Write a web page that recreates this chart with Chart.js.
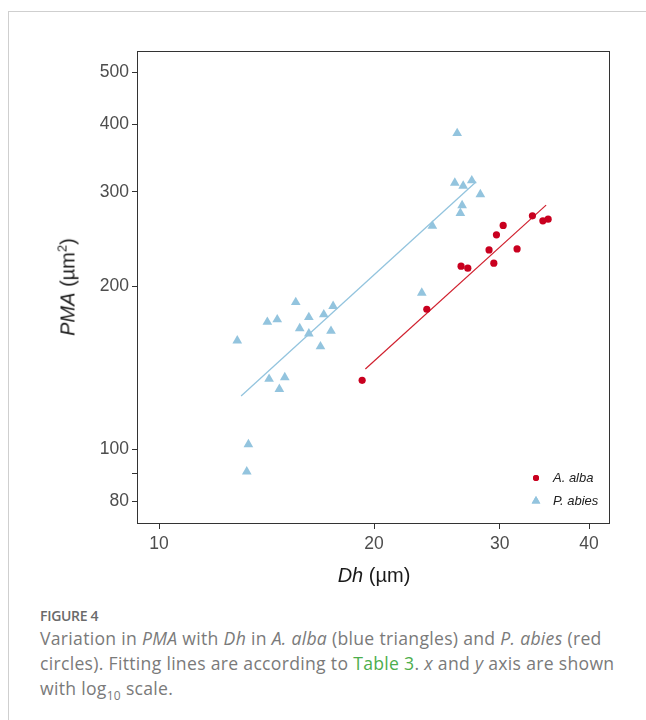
<!DOCTYPE html>
<html>
<head>
<meta charset="utf-8">
<script src="https://cdn.jsdelivr.net/npm/chart.js@4.4.1/dist/chart.umd.min.js"></script>
<style>
  body { margin: 0; background: #fff; width: 646px; height: 720px; overflow: hidden; position: relative; }
  .marco { position: absolute; left: 8px; top: 11px; width: 700px; height: 760px; border-top: 1px solid #cfcfcf; border-left: 1px solid #cfcfcf; }
  #grafico { position: absolute; left: 0; top: 0; }
  .titulo-y { position: absolute; left: 68px; top: 287px; transform: translate(-50%, -50%) rotate(-90deg); white-space: nowrap;
    font-family: "Liberation Sans", Arial, sans-serif; font-size: 20px; color: #1a1a1a; }
  .titulo-x { position: absolute; left: 374px; top: 575px; transform: translate(-50%, -50%); white-space: nowrap;
    font-family: "Liberation Sans", Arial, sans-serif; font-size: 20px; color: #1a1a1a; }
  .titulo-y sup { font-size: 13px; vertical-align: 8px; line-height: 0; }
  .pie { position: absolute; left: 40px; top: 606px; width: 600px; font-family: "Open Sans", sans-serif; color: #7a7a7a; }
  .pie .fig { font-size: 14px; font-weight: 600; color: #6a6a6a; margin-bottom: 1px; letter-spacing: -0.3px; }
  .pie .txt { font-size: 17.6px; line-height: 25px; letter-spacing: 0.3px; }
  .pie .verde { color: #4cae4c; }
  .pie sub { font-size: 12px; line-height: 0; }
</style>
</head>
<body>
<div class="marco"></div>
<canvas id="grafico" width="646" height="600"></canvas>
<div class="titulo-y"><i>PMA</i> (µm<sup>2</sup>)</div>
<div class="titulo-x"><i>Dh</i> (µm)</div>
<div class="pie">
  <div class="fig">FIGURE 4</div>
  <div class="txt">Variation in <i>PMA</i> with <i>Dh</i> in <i>A. alba</i> (blue triangles) and <i>P. abies</i> (red circles). Fitting lines are according to <span class="verde">Table 3</span>. <i>x</i> and <i>y</i> axis are shown with log<sub>10</sub> scale.</div>
</div>
<script>
// Datos (Dh en µm, PMA en µm²)
const albaDh  = [19.25, 23.71, 26.48, 27.06, 28.98, 29.43, 29.68, 30.33, 31.72, 33.33, 34.47, 35.06];
const albaPMA = [134.1, 181.6, 218.3, 216.4, 234.0, 221.1, 249.5, 259.7, 235.0, 270.6, 264.9, 266.8];

const abiesDh  = [12.87, 14.18, 14.64, 15.54, 16.21, 17.01, 17.53, 15.74, 16.21, 17.41, 16.83, 14.26, 15.00, 14.74,
                  13.34, 13.27, 26.15, 25.95, 26.66, 27.41, 28.18, 26.57, 26.42, 24.14, 23.33];
const abiesPMA = [158.8, 172.0, 173.8, 187.1, 175.5, 177.6, 184.0, 167.4, 163.6, 165.5, 154.9, 134.8, 135.8, 129.1,
                  102.0, 90.8, 385.0, 311.5, 307.5, 314.7, 296.5, 282.9, 273.8, 259.3, 194.7];

// Rectas de ajuste (extremos)
const ajusteAlbaDh  = [19.45, 34.83];
const ajusteAlbaPMA = [140.7, 283.3];
const ajusteAbiesDh  = [13.03, 27.80];
const ajusteAbiesPMA = [125.4, 312.9];

const ticksX = [10, 20, 30, 40];
const ticksY = [80, 90, 100, 200, 300, 400, 500];
const etiquetasY = [80, 100, 200, 300, 400, 500];

const ROJO = '#c9001f';
const AZUL = '#93c4de';
const fuenteEje = '"Liberation Sans", Arial, sans-serif';

function puntos(xs, ys) {
    return xs.map((x, i) => ({ x: x, y: ys[i] }));
}

// Marco del área de trazado
const marcoPlugin = {
    id: 'marco',
    afterDraw(chart) {
        const { ctx, chartArea: a } = chart;
        ctx.save();
        ctx.strokeStyle = '#333';
        ctx.lineWidth = 1;
        ctx.strokeRect(a.left + 0.5, a.top + 0.5, a.right - a.left - 1, a.bottom - a.top - 1);
        ctx.restore();
    }
};

// Leyenda dentro del área (abajo a la derecha)
const leyendaPlugin = {
    id: 'leyenda',
    afterDraw(chart) {
        const { ctx, chartArea: a } = chart;
        const x = a.right - 74;
        const items = [
            { texto: 'A. alba', estilo: 'circle', color: ROJO, r: 3, y: a.bottom - 46 },
            { texto: 'P. abies', estilo: 'triangle', color: AZUL, r: 5, y: a.bottom - 23 }
        ];
        ctx.save();
        items.forEach(it => {
            ctx.fillStyle = it.color;
            Chart.helpers.drawPoint(ctx, { pointStyle: it.estilo, radius: it.r, borderWidth: 0, rotation: 0 }, x, it.y);
            ctx.fill();
            ctx.fillStyle = '#222';
            ctx.font = 'italic 13px ' + fuenteEje;
            ctx.textBaseline = 'middle';
            ctx.textAlign = 'left';
            ctx.fillText(it.texto, x + 17, it.y);
        });
        ctx.restore();
    }
};

new Chart(document.getElementById('grafico').getContext('2d'), {
    type: 'scatter',
    data: {
        datasets: [
            {
                label: 'A. alba',
                data: puntos(albaDh, albaPMA),
                pointStyle: 'circle',
                pointRadius: 3.6,
                pointBorderWidth: 0,
                backgroundColor: ROJO,
                borderColor: ROJO
            },
            {
                label: 'P. abies',
                data: puntos(abiesDh, abiesPMA),
                pointStyle: 'triangle',
                pointRadius: 5.6,
                pointBorderWidth: 0,
                backgroundColor: AZUL,
                borderColor: AZUL
            },
            {
                label: 'ajuste alba',
                type: 'line',
                data: puntos(ajusteAlbaDh, ajusteAlbaPMA),
                borderColor: '#d0202e',
                borderWidth: 1.2,
                pointRadius: 0,
                fill: false
            },
            {
                label: 'ajuste abies',
                type: 'line',
                data: puntos(ajusteAbiesDh, ajusteAbiesPMA),
                borderColor: AZUL,
                borderWidth: 1.3,
                pointRadius: 0,
                fill: false
            }
        ]
    },
    options: {
        responsive: false,
        animation: false,
        devicePixelRatio: 1,
        layout: { padding: { top: 51, right: 36, left: 0, bottom: 0 } },
        plugins: {
            legend: { display: false },
            tooltip: { enabled: false }
        },
        scales: {
            x: {
                type: 'logarithmic',
                min: 9.315,
                max: 42.8,
                afterBuildTicks: eje => { eje.ticks = ticksX.map(v => ({ value: v })); },
                afterFit: eje => { eje.height = 76; },
                grid: { drawOnChartArea: false, drawTicks: true, tickLength: 5, color: '#333' },
                border: { display: false },
                ticks: {
                    autoSkip: false,
                    maxRotation: 0,
                    padding: 5,
                    color: '#4d4d4d',
                    font: { family: fuenteEje, size: 17.5 },
                    callback: v => String(v)
                }
            },
            y: {
                type: 'logarithmic',
                min: 72.6,
                max: 547,
                afterBuildTicks: eje => { eje.ticks = ticksY.map(v => ({ value: v })); },
                afterFit: eje => { eje.width = 137; },
                grid: { drawOnChartArea: false, drawTicks: true, tickLength: 5, color: '#333' },
                border: { display: false },
                ticks: {
                    autoSkip: false,
                    padding: 3,
                    color: '#4d4d4d',
                    font: { family: fuenteEje, size: 17.5 },
                    callback: v => etiquetasY.includes(v) ? String(v) : ''
                }
            }
        }
    },
    plugins: [marcoPlugin, leyendaPlugin]
});
</script>
</body>
</html>
